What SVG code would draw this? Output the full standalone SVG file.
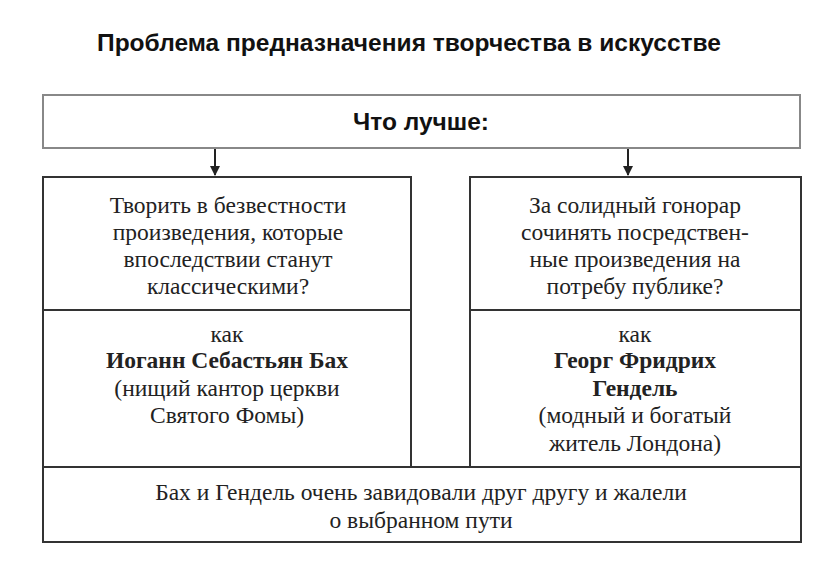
<svg xmlns="http://www.w3.org/2000/svg" width="816" height="578" viewBox="0 0 816 578">
<style>
.box{fill:#fff;stroke:#333;stroke-width:2}
.top{fill:#fff;stroke:#888;stroke-width:2}
.t{font-family:"Liberation Serif","Times New Roman",serif;font-size:23.5px;fill:#222;text-anchor:middle}
.b{font-weight:bold}
.h{font-family:"Liberation Sans Narrow","Liberation Sans",Arial,sans-serif;font-weight:bold;fill:#111;text-anchor:middle}
.c{stroke:#222;stroke-width:2;fill:none}
</style>
<defs>
<marker id="ah" viewBox="0 0 10 10" refX="9" refY="5" markerWidth="5" markerHeight="5" orient="auto" markerUnits="strokeWidth">
<path d="M0,0 L10,5 L0,10 z" fill="#222"/>
</marker>
</defs>
<rect width="816" height="578" fill="#fff"/>
<text class="h" x="409" y="51" font-size="23" textLength="624" lengthAdjust="spacingAndGlyphs">Проблема предназначения творчества в искусстве</text>
<g id="question">
<rect class="top" x="43" y="95" width="757" height="53"/>
<text class="h" x="421" y="130" font-size="23" textLength="136" lengthAdjust="spacingAndGlyphs">Что лучше:</text>
</g>
<g id="connectors">
<line class="c" x1="215" y1="149" x2="215" y2="175" marker-end="url(#ah)"/>
<line class="c" x1="628" y1="149" x2="628" y2="175" marker-end="url(#ah)"/>
</g>
<g id="left-question">
<rect class="box" x="43" y="177" width="368" height="133"/>
<text class="t" x="228" y="213">Творить в безвестности</text>
<text class="t" x="228" y="240">произведения, которые</text>
<text class="t" x="228" y="267">впоследствии станут</text>
<text class="t" x="228" y="294">классическими?</text>
</g>
<g id="left-example">
<rect class="box" x="43" y="310" width="368" height="157"/>
<text class="t" x="227" y="342">как</text>
<text class="t b" x="227" y="368">Иоганн Себастьян Бах</text>
<text class="t" x="227" y="396">(нищий кантор церкви</text>
<text class="t" x="227" y="423">Святого Фомы)</text>
</g>
<g id="right-question">
<rect class="box" x="470" y="177" width="331" height="133"/>
<text class="t" x="635" y="213">За солидный гонорар</text>
<text class="t" x="635" y="240">сочинять посредствен-</text>
<text class="t" x="635" y="267">ные произведения на</text>
<text class="t" x="635" y="294">потребу публике?</text>
</g>
<g id="right-example">
<rect class="box" x="470" y="310" width="331" height="157"/>
<text class="t" x="635" y="342">как</text>
<text class="t b" x="635" y="368">Георг Фридрих</text>
<text class="t b" x="635" y="396">Гендель</text>
<text class="t" x="635" y="423">(модный и богатый</text>
<text class="t" x="635" y="451">житель Лондона)</text>
</g>
<g id="conclusion">
<rect class="box" x="43" y="467" width="758" height="75"/>
<text class="t" x="421" y="500">Бах и Гендель очень завидовали друг другу и жалели</text>
<text class="t" x="421" y="528">о выбранном пути</text>
</g>
</svg>
